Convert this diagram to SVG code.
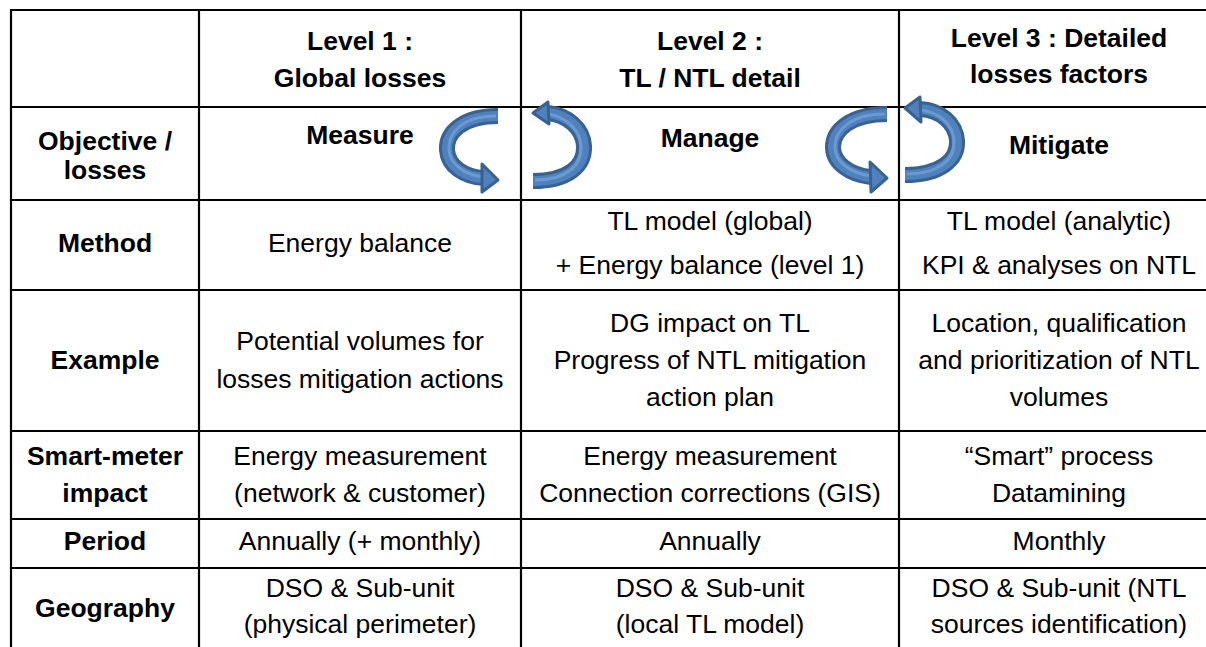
<svg xmlns="http://www.w3.org/2000/svg" width="1206" height="647" viewBox="0 0 1206 647">
<style>
text{font-family:"Liberation Sans",Arial,sans-serif;font-size:26.5px;fill:#000;text-anchor:middle}
.b{font-weight:bold}
.grid line{stroke:#000;stroke-width:2.2}
.bo{fill:none;stroke:#3a6190;stroke-width:16;stroke-linecap:butt}
.bi{fill:none;stroke:#4f81bd;stroke-width:10;stroke-linecap:butt}
.bh{fill:none;stroke:#6b9ad2;stroke-width:3;stroke-linecap:butt}
.hd{fill:#4f81bd;stroke:#3a6190;stroke-width:3;stroke-linejoin:round}
</style>
<rect width="1206" height="647" fill="#fff"/>
<g class="grid" id="grid">
<line x1="11" y1="10" x2="1206" y2="10"/>
<line x1="11" y1="107" x2="1206" y2="107"/>
<line x1="11" y1="200" x2="1206" y2="200"/>
<line x1="11" y1="290" x2="1206" y2="290"/>
<line x1="11" y1="431" x2="1206" y2="431"/>
<line x1="11" y1="519" x2="1206" y2="519"/>
<line x1="11" y1="568" x2="1206" y2="568"/>
<line x1="11" y1="9" x2="11" y2="647"/>
<line x1="199" y1="9" x2="199" y2="647"/>
<line x1="521" y1="9" x2="521" y2="647"/>
<line x1="899" y1="9" x2="899" y2="647"/>
</g>
<g id="header">
<text class="b" x="360" y="50">Level 1 :</text>
<text class="b" x="360" y="87">Global losses</text>
<text class="b" x="710" y="50">Level 2 :</text>
<text class="b" x="710" y="87">TL / NTL detail</text>
<text class="b" x="1059" y="47">Level 3 : Detailed</text>
<text class="b" x="1059" y="83">losses factors</text>
</g>
<g id="row-objective">
<text class="b" x="105" y="150">Objective /</text>
<text class="b" x="105" y="179">losses</text>
<text class="b" x="360" y="144">Measure</text>
<text class="b" x="710" y="147">Manage</text>
<text class="b" x="1059" y="154">Mitigate</text>
</g>
<g id="row-method">
<text class="b" x="105" y="252">Method</text>
<text x="360" y="252">Energy balance</text>
<text x="710" y="230">TL model (global)</text>
<text x="710" y="274">+ Energy balance (level 1)</text>
<text x="1059" y="230">TL model (analytic)</text>
<text x="1059" y="274">KPI &amp; analyses on NTL</text>
</g>
<g id="row-example">
<text class="b" x="105" y="369">Example</text>
<text x="360" y="350">Potential volumes for</text>
<text x="360" y="388">losses mitigation actions</text>
<text x="710" y="332">DG impact on TL</text>
<text x="710" y="369">Progress of NTL mitigation</text>
<text x="710" y="406">action plan</text>
<text x="1059" y="332">Location, qualification</text>
<text x="1059" y="369">and prioritization of NTL</text>
<text x="1059" y="406">volumes</text>
</g>
<g id="row-smartmeter">
<text class="b" x="105" y="465">Smart-meter</text>
<text class="b" x="105" y="502">impact</text>
<text x="360" y="465">Energy measurement</text>
<text x="360" y="502">(network &amp; customer)</text>
<text x="710" y="465">Energy measurement</text>
<text x="710" y="502">Connection corrections (GIS)</text>
<text x="1059" y="465">“Smart” process</text>
<text x="1059" y="502">Datamining</text>
</g>
<g id="row-period">
<text class="b" x="105" y="550">Period</text>
<text x="360" y="550">Annually (+ monthly)</text>
<text x="710" y="550">Annually</text>
<text x="1059" y="550">Monthly</text>
</g>
<g id="row-geography">
<text class="b" x="105" y="617">Geography</text>
<text x="360" y="597">DSO &amp; Sub-unit</text>
<text x="360" y="633">(physical perimeter)</text>
<text x="710" y="597">DSO &amp; Sub-unit</text>
<text x="710" y="633">(local TL model)</text>
<text x="1059" y="597">DSO &amp; Sub-unit (NTL</text>
<text x="1059" y="633">sources identification)</text>
</g>
<g id="connectors">
<g id="arrow1a">
<path class="bo" d="M498 116 C462 116 446 133 447 150 C448 166 464 177 484 178"/>
<path class="bi" d="M498 116 C462 116 446 133 447 150 C448 166 464 177 484 178"/>
<path class="bh" d="M496 116 C462 116 448 133 449 150 C450 164 464 175 484 177"/>
<polygon class="hd" points="482,164 498,180 482,192"/>
</g>
<g id="arrow1b">
<path class="bo" d="M533 181 C568 181 585 166 584 146 C583 128 567 115 548 113"/>
<path class="bi" d="M533 181 C568 181 585 166 584 146 C583 128 567 115 548 113"/>
<path class="bh" d="M535 180 C566 180 582 166 581 146 C580 129 566 117 548 114"/>
<polygon class="hd" points="548,102 533,113 549,124"/>
</g>
<g id="arrow2a">
<path class="bo" d="M887 114 C851 114 833 130 833 147 C833 163 850 175 871 177"/>
<path class="bi" d="M887 114 C851 114 833 130 833 147 C833 163 850 175 871 177"/>
<path class="bh" d="M885 114 C851 114 835 130 835 147 C835 162 850 173 871 176"/>
<polygon class="hd" points="870,162 887,178 871,192"/>
</g>
<g id="arrow2b">
<path class="bo" d="M905 175 C940 175 958 160 957 141 C956 123 940 110 920 109"/>
<path class="bi" d="M905 175 C940 175 958 160 957 141 C956 123 940 110 920 109"/>
<path class="bh" d="M907 174 C938 174 955 160 954 141 C953 124 939 112 920 110"/>
<polygon class="hd" points="920,97 905,108 921,122"/>
</g>
</g>
</svg>
